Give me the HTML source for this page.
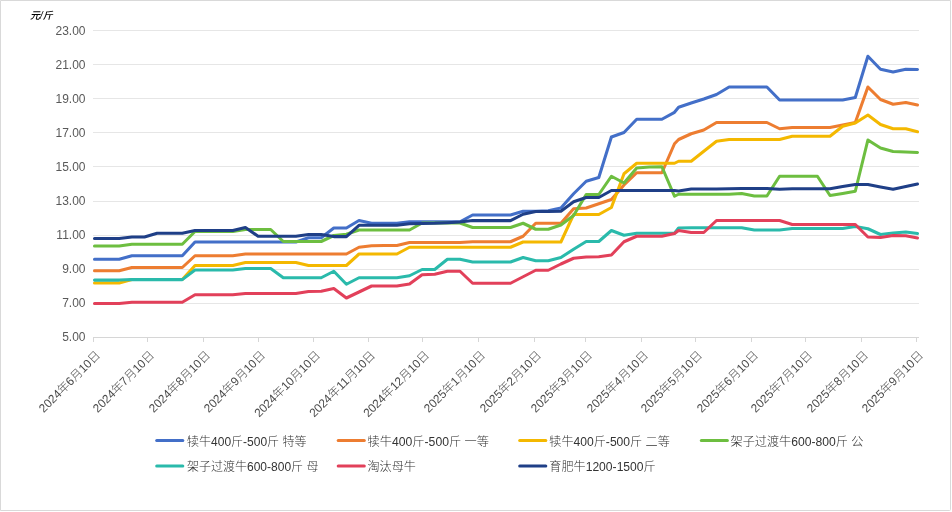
<!DOCTYPE html>
<html lang="zh"><head><meta charset="utf-8"><title>chart</title>
<style>
html,body{margin:0;padding:0;background:#fff;}
body{width:952px;height:512px;position:relative;overflow:hidden;font-family:"Liberation Sans","Noto Sans CJK SC",sans-serif;}
.frame{position:absolute;left:0;top:0;width:949px;height:509px;border:1px solid #D9D9D9;border-radius:0 0 1.5px 0;background:#fff;}
svg text{font-family:"Liberation Sans","Noto Sans CJK SC",sans-serif;}
.yl{font-size:12px;fill:#595959;}
.xl{font-size:12px;fill:#4a4a4a;font-weight:300;}
.lg{font-size:12px;fill:#333;font-weight:300;}
.ti{font-size:10px;font-style:italic;fill:#000;font-weight:500;}
</style></head><body>
<div class="frame"></div>
<svg width="952" height="512" viewBox="0 0 952 512" style="position:absolute;left:0;top:0;will-change:transform">
<line x1="93" x2="919" y1="30.5" y2="30.5" stroke="#E6E6E6" stroke-width="1"/>
<line x1="93" x2="919" y1="64.5" y2="64.5" stroke="#E6E6E6" stroke-width="1"/>
<line x1="93" x2="919" y1="98.5" y2="98.5" stroke="#E6E6E6" stroke-width="1"/>
<line x1="93" x2="919" y1="132.5" y2="132.5" stroke="#E6E6E6" stroke-width="1"/>
<line x1="93" x2="919" y1="166.5" y2="166.5" stroke="#E6E6E6" stroke-width="1"/>
<line x1="93" x2="919" y1="201.5" y2="201.5" stroke="#E6E6E6" stroke-width="1"/>
<line x1="93" x2="919" y1="235.5" y2="235.5" stroke="#E6E6E6" stroke-width="1"/>
<line x1="93" x2="919" y1="269.5" y2="269.5" stroke="#E6E6E6" stroke-width="1"/>
<line x1="93" x2="919" y1="303.5" y2="303.5" stroke="#E6E6E6" stroke-width="1"/>
<line x1="93" x2="919" y1="337.5" y2="337.5" stroke="#D6D6D6" stroke-width="1"/>
<line x1="93.5" x2="93.5" y1="337" y2="342" stroke="#D6D6D6" stroke-width="1"/>
<line x1="147.5" x2="147.5" y1="337" y2="342" stroke="#D6D6D6" stroke-width="1"/>
<line x1="203.5" x2="203.5" y1="337" y2="342" stroke="#D6D6D6" stroke-width="1"/>
<line x1="258.5" x2="258.5" y1="337" y2="342" stroke="#D6D6D6" stroke-width="1"/>
<line x1="313.5" x2="313.5" y1="337" y2="342" stroke="#D6D6D6" stroke-width="1"/>
<line x1="368.5" x2="368.5" y1="337" y2="342" stroke="#D6D6D6" stroke-width="1"/>
<line x1="422.5" x2="422.5" y1="337" y2="342" stroke="#D6D6D6" stroke-width="1"/>
<line x1="478.5" x2="478.5" y1="337" y2="342" stroke="#D6D6D6" stroke-width="1"/>
<line x1="534.5" x2="534.5" y1="337" y2="342" stroke="#D6D6D6" stroke-width="1"/>
<line x1="585.5" x2="585.5" y1="337" y2="342" stroke="#D6D6D6" stroke-width="1"/>
<line x1="641.5" x2="641.5" y1="337" y2="342" stroke="#D6D6D6" stroke-width="1"/>
<line x1="695.5" x2="695.5" y1="337" y2="342" stroke="#D6D6D6" stroke-width="1"/>
<line x1="751.5" x2="751.5" y1="337" y2="342" stroke="#D6D6D6" stroke-width="1"/>
<line x1="805.5" x2="805.5" y1="337" y2="342" stroke="#D6D6D6" stroke-width="1"/>
<line x1="861.5" x2="861.5" y1="337" y2="342" stroke="#D6D6D6" stroke-width="1"/>
<line x1="916.5" x2="916.5" y1="337" y2="342" stroke="#D6D6D6" stroke-width="1"/>
<text x="85.5" y="35" text-anchor="end" class="yl">23.00</text>
<text x="85.5" y="69" text-anchor="end" class="yl">21.00</text>
<text x="85.5" y="103" text-anchor="end" class="yl">19.00</text>
<text x="85.5" y="137" text-anchor="end" class="yl">17.00</text>
<text x="85.5" y="171" text-anchor="end" class="yl">15.00</text>
<text x="85.5" y="205" text-anchor="end" class="yl">13.00</text>
<text x="85.5" y="239" text-anchor="end" class="yl">11.00</text>
<text x="85.5" y="273" text-anchor="end" class="yl">9.00</text>
<text x="85.5" y="307" text-anchor="end" class="yl">7.00</text>
<text x="85.5" y="341" text-anchor="end" class="yl">5.00</text>
<text transform="translate(101.0,356.0) rotate(-45)" text-anchor="end" class="xl" textLength="80.8" lengthAdjust="spacingAndGlyphs">2024年6月10日</text>
<text transform="translate(155.0,356.0) rotate(-45)" text-anchor="end" class="xl" textLength="80.8" lengthAdjust="spacingAndGlyphs">2024年7月10日</text>
<text transform="translate(211.0,356.0) rotate(-45)" text-anchor="end" class="xl" textLength="80.8" lengthAdjust="spacingAndGlyphs">2024年8月10日</text>
<text transform="translate(266.0,356.0) rotate(-45)" text-anchor="end" class="xl" textLength="80.8" lengthAdjust="spacingAndGlyphs">2024年9月10日</text>
<text transform="translate(321.0,356.0) rotate(-45)" text-anchor="end" class="xl" textLength="87.5" lengthAdjust="spacingAndGlyphs">2024年10月10日</text>
<text transform="translate(376.0,356.0) rotate(-45)" text-anchor="end" class="xl" textLength="87.5" lengthAdjust="spacingAndGlyphs">2024年11月10日</text>
<text transform="translate(430.0,356.0) rotate(-45)" text-anchor="end" class="xl" textLength="87.5" lengthAdjust="spacingAndGlyphs">2024年12月10日</text>
<text transform="translate(486.0,356.0) rotate(-45)" text-anchor="end" class="xl" textLength="80.8" lengthAdjust="spacingAndGlyphs">2025年1月10日</text>
<text transform="translate(542.0,356.0) rotate(-45)" text-anchor="end" class="xl" textLength="80.8" lengthAdjust="spacingAndGlyphs">2025年2月10日</text>
<text transform="translate(593.0,356.0) rotate(-45)" text-anchor="end" class="xl" textLength="80.8" lengthAdjust="spacingAndGlyphs">2025年3月10日</text>
<text transform="translate(649.0,356.0) rotate(-45)" text-anchor="end" class="xl" textLength="80.8" lengthAdjust="spacingAndGlyphs">2025年4月10日</text>
<text transform="translate(703.0,356.0) rotate(-45)" text-anchor="end" class="xl" textLength="80.8" lengthAdjust="spacingAndGlyphs">2025年5月10日</text>
<text transform="translate(759.0,356.0) rotate(-45)" text-anchor="end" class="xl" textLength="80.8" lengthAdjust="spacingAndGlyphs">2025年6月10日</text>
<text transform="translate(813.0,356.0) rotate(-45)" text-anchor="end" class="xl" textLength="80.8" lengthAdjust="spacingAndGlyphs">2025年7月10日</text>
<text transform="translate(869.0,356.0) rotate(-45)" text-anchor="end" class="xl" textLength="80.8" lengthAdjust="spacingAndGlyphs">2025年8月10日</text>
<text transform="translate(924.0,356.0) rotate(-45)" text-anchor="end" class="xl" textLength="80.8" lengthAdjust="spacingAndGlyphs">2025年9月10日</text>
<polyline points="94.5,259.25 106.6,259.25 119.2,259.25 131.9,255.75 144.5,255.75 157.1,255.75 169.7,255.75 182.3,255.75 195.0,242.00 207.6,242.00 220.2,242.00 232.8,242.00 245.4,242.00 258.1,242.00 270.7,242.00 283.3,242.00 295.9,242.00 308.5,237.75 321.2,237.75 333.8,228.00 346.4,228.00 359.0,220.50 371.6,223.25 384.3,223.25 396.9,223.25 409.5,221.75 422.1,221.75 434.7,221.75 447.4,221.75 460.0,221.75 472.6,215.00 485.2,215.00 497.8,215.00 510.5,215.00 523.1,211.25 535.7,211.25 548.3,210.75 560.9,208.00 573.6,193.75 586.2,181.25 598.8,177.50 611.4,137.00 624.0,132.50 636.7,119.25 649.3,119.25 661.9,119.25 674.5,112.30 678.6,107.30 691.2,103.00 703.8,99.00 716.5,94.50 729.1,87.00 741.7,87.00 754.3,87.00 766.9,87.00 779.6,100.00 792.2,100.00 804.8,100.00 817.4,100.00 830.0,100.00 842.7,100.00 855.3,97.50 867.9,56.25 880.5,69.25 893.1,72.00 905.8,69.25 917.5,69.50" fill="none" stroke="#436FC8" stroke-width="3.05" stroke-linejoin="round" stroke-linecap="round"/>
<polyline points="94.5,270.75 106.6,270.75 119.2,270.75 131.9,267.50 144.5,267.50 157.1,267.50 169.7,267.50 182.3,267.50 195.0,255.75 207.6,255.75 220.2,255.75 232.8,255.75 245.4,254.00 258.1,254.00 270.7,254.00 283.3,254.00 295.9,254.00 308.5,254.00 321.2,254.00 333.8,254.00 346.4,254.00 359.0,247.25 371.6,245.75 384.3,245.50 396.9,245.50 409.5,242.50 422.1,242.50 434.7,242.50 447.4,242.50 460.0,242.50 472.6,241.75 485.2,241.75 497.8,241.75 510.5,241.75 523.1,236.25 535.7,223.25 548.3,223.25 560.9,223.25 573.6,208.75 586.2,208.00 598.8,203.75 611.4,199.50 624.0,185.00 636.7,172.75 649.3,172.75 661.9,172.75 674.5,143.75 678.6,139.50 691.2,133.75 703.8,130.00 716.5,122.50 729.1,122.50 741.7,122.50 754.3,122.50 766.9,122.50 779.6,128.75 792.2,127.50 804.8,127.50 817.4,127.50 830.0,127.50 842.7,125.00 855.3,122.50 867.9,87.00 880.5,99.50 893.1,104.25 905.8,102.50 917.5,105.00" fill="none" stroke="#ED7D31" stroke-width="3.05" stroke-linejoin="round" stroke-linecap="round"/>
<polyline points="94.5,283.00 106.6,283.00 119.2,283.00 131.9,279.50 144.5,279.50 157.1,279.50 169.7,279.50 182.3,279.50 195.0,265.50 207.6,265.50 220.2,265.50 232.8,265.50 245.4,262.50 258.1,262.50 270.7,262.50 283.3,262.50 295.9,262.50 308.5,265.50 321.2,265.50 333.8,265.50 346.4,265.50 359.0,254.00 371.6,254.00 384.3,254.00 396.9,254.00 409.5,247.25 422.1,247.25 434.7,247.25 447.4,247.25 460.0,247.25 472.6,247.25 485.2,247.25 497.8,247.25 510.5,247.25 523.1,242.00 535.7,242.00 548.3,242.00 560.9,242.00 573.6,214.50 586.2,214.50 598.8,214.50 611.4,207.50 624.0,173.75 636.7,163.25 649.3,163.25 661.9,163.25 674.5,163.25 678.6,161.25 691.2,161.25 703.8,151.25 716.5,141.25 729.1,139.50 741.7,139.50 754.3,139.50 766.9,139.50 779.6,139.50 792.2,136.25 804.8,136.25 817.4,136.25 830.0,136.25 842.7,126.25 855.3,123.00 867.9,115.00 880.5,124.50 893.1,128.75 905.8,128.75 917.5,131.75" fill="none" stroke="#F4B800" stroke-width="3.05" stroke-linejoin="round" stroke-linecap="round"/>
<polyline points="94.5,246.00 106.6,246.00 119.2,246.00 131.9,244.25 144.5,244.25 157.1,244.25 169.7,244.25 182.3,244.25 195.0,231.50 207.6,231.50 220.2,231.50 232.8,231.50 245.4,229.50 258.1,229.50 270.7,229.50 283.3,241.50 295.9,241.50 308.5,241.50 321.2,241.50 333.8,235.50 346.4,234.25 359.0,230.00 371.6,230.00 384.3,230.00 396.9,230.00 409.5,230.00 422.1,223.00 434.7,223.00 447.4,223.00 460.0,223.00 472.6,227.50 485.2,227.50 497.8,227.50 510.5,227.50 523.1,223.25 535.7,229.25 548.3,229.25 560.9,225.00 573.6,215.50 586.2,194.50 598.8,194.50 611.4,176.25 624.0,183.00 636.7,168.00 649.3,167.00 661.9,166.75 674.5,196.25 678.6,194.25 691.2,194.25 703.8,194.25 716.5,194.25 729.1,194.25 741.7,193.50 754.3,196.00 766.9,196.00 779.6,176.25 792.2,176.25 804.8,176.25 817.4,176.25 830.0,195.50 842.7,193.40 855.3,191.25 867.9,140.00 880.5,148.00 893.1,151.50 905.8,152.00 917.5,152.50" fill="none" stroke="#6DBE40" stroke-width="3.05" stroke-linejoin="round" stroke-linecap="round"/>
<polyline points="94.5,280.10 106.6,280.10 119.2,280.10 131.9,279.60 144.5,279.60 157.1,279.60 169.7,279.60 182.3,279.60 195.0,270.00 207.6,270.00 220.2,270.00 232.8,270.00 245.4,268.50 258.1,268.50 270.7,268.50 283.3,277.75 295.9,277.75 308.5,277.75 321.2,277.75 333.8,271.25 346.4,284.25 359.0,277.75 371.6,277.75 384.3,277.75 396.9,277.75 409.5,275.75 422.1,269.50 434.7,269.50 447.4,259.25 460.0,259.25 472.6,262.00 485.2,262.00 497.8,262.00 510.5,262.00 523.1,257.50 535.7,260.75 548.3,260.75 560.9,257.50 573.6,249.25 586.2,241.50 598.8,241.50 611.4,230.50 624.0,235.25 636.7,233.25 649.3,233.25 661.9,233.25 674.5,233.25 678.6,228.00 691.2,227.75 703.8,227.75 716.5,227.75 729.1,227.75 741.7,227.75 754.3,230.00 766.9,230.00 779.6,230.00 792.2,228.50 804.8,228.50 817.4,228.50 830.0,228.50 842.7,228.50 855.3,226.50 867.9,228.75 880.5,234.50 893.1,233.00 905.8,232.00 917.5,233.50" fill="none" stroke="#2ABAAB" stroke-width="3.05" stroke-linejoin="round" stroke-linecap="round"/>
<polyline points="94.5,303.50 106.6,303.50 119.2,303.50 131.9,302.25 144.5,302.25 157.1,302.25 169.7,302.25 182.3,302.25 195.0,294.75 207.6,294.75 220.2,294.75 232.8,294.75 245.4,293.50 258.1,293.50 270.7,293.50 283.3,293.50 295.9,293.50 308.5,291.50 321.2,291.25 333.8,288.50 346.4,298.00 359.0,292.00 371.6,286.00 384.3,286.00 396.9,286.00 409.5,284.00 422.1,274.75 434.7,274.25 447.4,271.25 460.0,271.25 472.6,283.25 485.2,283.25 497.8,283.25 510.5,283.25 523.1,276.75 535.7,270.25 548.3,270.25 560.9,264.00 573.6,258.25 586.2,257.00 598.8,256.75 611.4,255.00 624.0,241.75 636.7,236.25 649.3,236.25 661.9,236.25 674.5,233.50 678.6,230.50 691.2,232.50 703.8,232.50 716.5,220.50 729.1,220.50 741.7,220.50 754.3,220.50 766.9,220.50 779.6,220.50 792.2,224.50 804.8,224.50 817.4,224.50 830.0,224.50 842.7,224.50 855.3,224.50 867.9,237.00 880.5,237.50 893.1,235.50 905.8,235.75 917.5,238.00" fill="none" stroke="#E2405A" stroke-width="3.05" stroke-linejoin="round" stroke-linecap="round"/>
<polyline points="94.5,238.50 106.6,238.50 119.2,238.50 131.9,237.00 144.5,237.00 157.1,233.25 169.7,233.25 182.3,233.25 195.0,230.50 207.6,230.50 220.2,230.50 232.8,230.50 245.4,227.50 258.1,236.25 270.7,236.25 283.3,236.25 295.9,236.25 308.5,234.50 321.2,234.50 333.8,236.60 346.4,236.60 359.0,225.30 371.6,225.30 384.3,225.30 396.9,225.30 409.5,223.80 422.1,223.40 434.7,223.20 447.4,222.70 460.0,222.00 472.6,220.60 485.2,220.60 497.8,220.60 510.5,220.60 523.1,214.25 535.7,211.50 548.3,211.50 560.9,211.25 573.6,201.75 586.2,197.50 598.8,197.50 611.4,190.50 624.0,190.50 636.7,190.50 649.3,190.50 661.9,190.50 674.5,190.50 678.6,191.00 691.2,189.10 703.8,189.00 716.5,188.90 729.1,188.75 741.7,188.50 754.3,188.50 766.9,188.50 779.6,189.25 792.2,188.75 804.8,188.75 817.4,188.75 830.0,188.75 842.7,186.50 855.3,184.50 867.9,184.50 880.5,187.00 893.1,189.25 905.8,186.50 917.5,184.00" fill="none" stroke="#1F3F87" stroke-width="3.05" stroke-linejoin="round" stroke-linecap="round"/>
<line x1="156.7" x2="182.8" y1="440.6" y2="440.6" stroke="#436FC8" stroke-width="3" stroke-linecap="round"/>
<text x="187.0" y="445.6" class="lg" textLength="119.5" lengthAdjust="spacingAndGlyphs">犊牛400斤-500斤 特等</text>
<line x1="338.2" x2="364.3" y1="440.6" y2="440.6" stroke="#ED7D31" stroke-width="3" stroke-linecap="round"/>
<text x="367.5" y="445.6" class="lg" textLength="121.5" lengthAdjust="spacingAndGlyphs">犊牛400斤-500斤 一等</text>
<line x1="519.7" x2="545.8" y1="440.6" y2="440.6" stroke="#F4B800" stroke-width="3" stroke-linecap="round"/>
<text x="549.3" y="445.6" class="lg" textLength="120.5" lengthAdjust="spacingAndGlyphs">犊牛400斤-500斤 二等</text>
<line x1="701.3000000000001" x2="727.4" y1="440.6" y2="440.6" stroke="#6DBE40" stroke-width="3" stroke-linecap="round"/>
<text x="730.5" y="445.6" class="lg" textLength="133.0" lengthAdjust="spacingAndGlyphs">架子过渡牛600-800斤 公</text>
<line x1="156.7" x2="182.8" y1="465.9" y2="465.9" stroke="#2ABAAB" stroke-width="3" stroke-linecap="round"/>
<text x="187.0" y="470.9" class="lg" textLength="131.4" lengthAdjust="spacingAndGlyphs">架子过渡牛600-800斤 母</text>
<line x1="338.2" x2="364.3" y1="465.9" y2="465.9" stroke="#E2405A" stroke-width="3" stroke-linecap="round"/>
<text x="367.5" y="470.9" class="lg" textLength="48.4" lengthAdjust="spacingAndGlyphs">淘汰母牛</text>
<line x1="519.7" x2="545.8" y1="465.9" y2="465.9" stroke="#1F3F87" stroke-width="3" stroke-linecap="round"/>
<text x="549.3" y="470.9" class="lg" textLength="106.4" lengthAdjust="spacingAndGlyphs">育肥牛1200-1500斤</text>
<text x="30" y="18.7" class="ti">元/斤</text>
</svg>
</body></html>
